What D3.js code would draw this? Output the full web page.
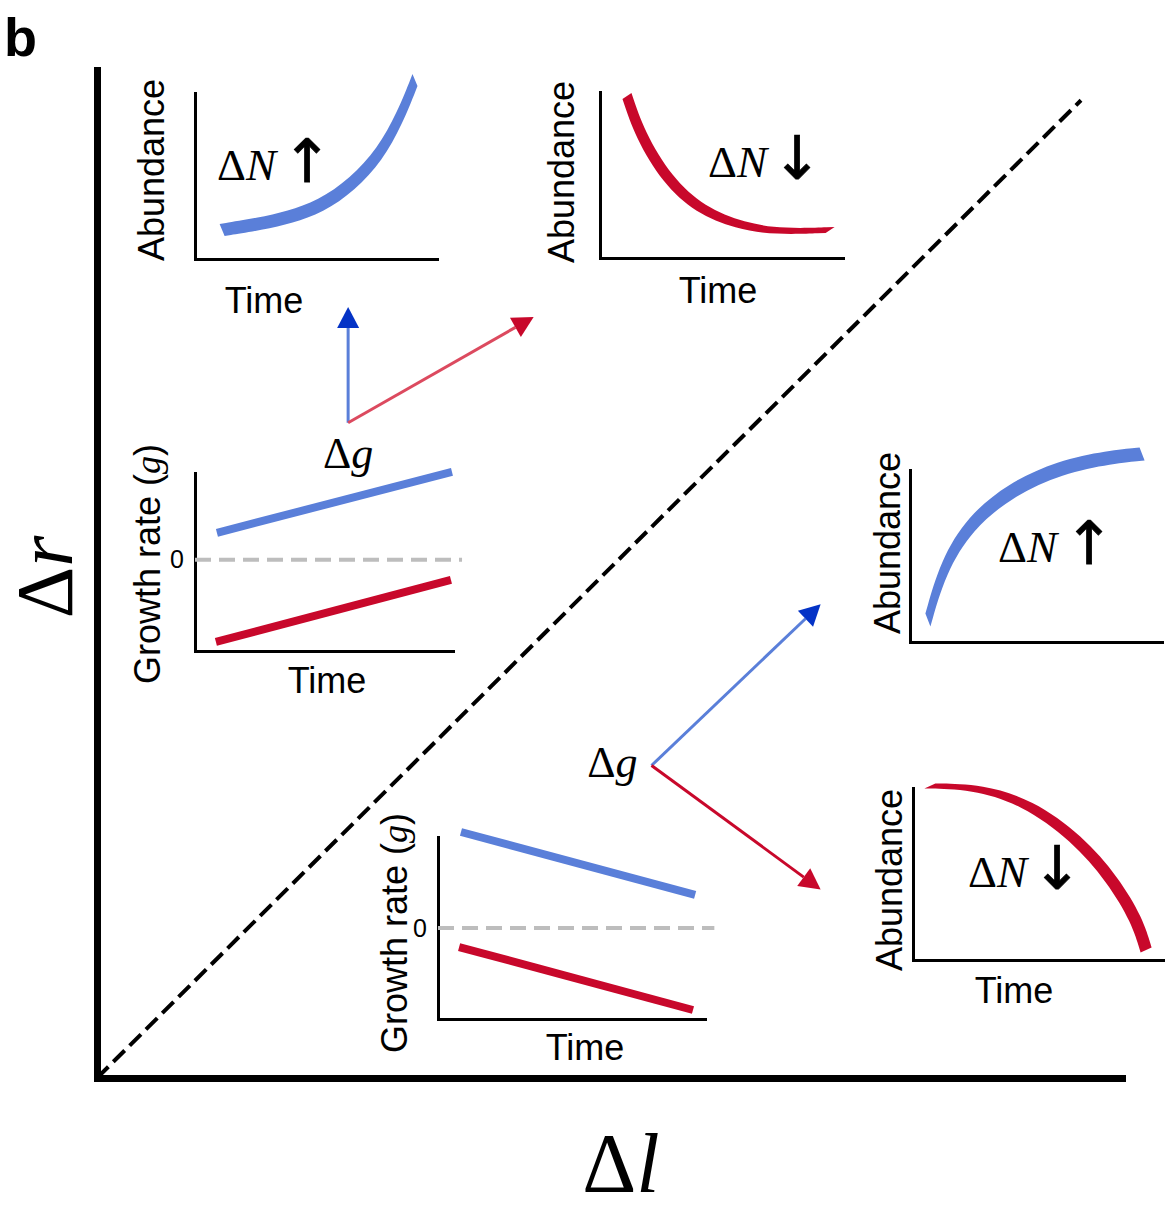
<!DOCTYPE html>
<html>
<head>
<meta charset="utf-8">
<title>Δr vs Δl</title>
<script src="https://cdn.jsdelivr.net/npm/d3@7"></script>
<style>
body { margin: 0; background: #fff; }
text { font-family: "Liberation Sans", Arial, sans-serif; fill: #000; }
.math { font-family: "Liberation Serif", "Times New Roman", serif; }
</style>
</head>
<body>
<svg id="fig" width="1165" height="1210"></svg>
<script>
// ---- data ----
// main diagram, in (Δl, Δr) units 0..10
var diagonal = [[0, 0], [9.6, 9.7]];
var arrowOriginTop = [2.45, 6.50];
var arrowTipsTop = [[2.45, 7.65], [4.26, 7.55]];      // blue, red
var arrowOriginBottom = [5.41, 3.10];
var arrowTipsBottom = [[7.06, 4.70], [7.06, 1.87]];   // blue, red

// abundance vs time insets (time 0..10, abundance 0..10)
var expGrowth    = [[1.12,1.75],[2.69,2.11],[3.93,2.53],[5.17,3.13],[6.53,4.52],[7.64,6.27],[8.47,8.49],[9.09,10.78]];
var expDecline   = [[1.11,9.76],[1.65,7.41],[2.76,4.70],[4.12,2.89],[5.76,1.93],[7.41,1.57],[9.47,1.69]];
var satGrowth    = [[0.71,1.28],[1.31,4.36],[2.38,6.92],[3.97,8.84],[5.95,10.17],[7.94,10.76],[9.21,10.93]];
var accelDecline = [[0.67,10.12],[2.54,10.06],[4.52,9.19],[6.51,7.09],[7.94,4.65],[8.89,2.33],[9.25,0.58]];

// growth rate vs time insets
var gUpBlue   = [[0.85, 3.11], [9.96, 10.14]];
var gUpRed    = [[0.81, -9.45], [9.92, -2.30]];
var gDownBlue = [[0.86, 10.55], [9.63, 3.63]];
var gDownRed  = [[0.79, -2.09], [9.55, -9.01]];

var BLUE = "#5a7fd9", RED = "#c8082b", BLUE_HEAD = "#0433c6", RED_LIGHT = "#dc4a5f";

var svg = d3.select("#fig");

// ---- main axes ----
var X = d3.scaleLinear().domain([0, 10]).range([97, 1122]);
var Y = d3.scaleLinear().domain([0, 10]).range([1078, 70]);

function bareAxis(g, w) {
  g.selectAll(".domain").attr("stroke", "#000").attr("stroke-width", w).attr("stroke-linecap", "square");
}

svg.append("g").attr("transform", "translate(0," + Y(0) + ")")
  .call(d3.axisBottom(X).tickValues([]).tickSizeOuter(0)).call(bareAxis, 7);
svg.append("g").attr("transform", "translate(" + X(0) + ",0)")
  .call(d3.axisLeft(Y).tickValues([]).tickSizeOuter(0)).call(bareAxis, 7);

svg.append("path")
  .attr("d", d3.line().x(function(d){ return X(d[0]); }).y(function(d){ return Y(d[1]); })(diagonal))
  .attr("stroke", "#000").attr("stroke-width", 4).attr("stroke-dasharray", "16,7").attr("fill", "none");

svg.append("text").attr("x", 4).attr("y", 56).style("font-weight", "bold").style("font-size", "54px").text("b");

svg.append("text").attr("class", "math").attr("transform", "translate(72,577) rotate(-90)")
  .attr("text-anchor", "middle").style("font-size", "80px")
  .html('Δ<tspan font-style="italic">r</tspan>');
svg.append("text").attr("class", "math").attr("x", 621).attr("y", 1192)
  .attr("text-anchor", "middle").style("font-size", "84px")
  .html('Δ<tspan font-style="italic">l</tspan>');

// ---- arrows ----
function arrow(from, to, lineColor, headColor) {
  var x1 = X(from[0]), y1 = Y(from[1]), x2 = X(to[0]), y2 = Y(to[1]);
  var a = Math.atan2(y2 - y1, x2 - x1), L = 21, W = 11;
  var bx = x2 - L * Math.cos(a), by = y2 - L * Math.sin(a);
  svg.append("line").attr("x1", x1).attr("y1", y1).attr("x2", bx).attr("y2", by)
    .attr("stroke", lineColor).attr("stroke-width", 3);
  var px = -Math.sin(a) * W, py = Math.cos(a) * W;
  svg.append("path")
    .attr("d", "M" + x2 + "," + y2 + "L" + (bx + px) + "," + (by + py) + "L" + (bx - px) + "," + (by - py) + "Z")
    .attr("fill", headColor);
}
arrow(arrowOriginTop, arrowTipsTop[0], BLUE, BLUE_HEAD);
arrow(arrowOriginTop, arrowTipsTop[1], RED_LIGHT, RED);
arrow(arrowOriginBottom, arrowTipsBottom[0], BLUE, BLUE_HEAD);
arrow(arrowOriginBottom, arrowTipsBottom[1], RED, RED);

svg.append("text").attr("class", "math").attr("x", X(arrowOriginTop[0])).attr("y", 468)
  .attr("text-anchor", "middle").style("font-size", "44px")
  .html('Δ<tspan font-style="italic">g</tspan>');
svg.append("text").attr("class", "math").attr("x", X(arrowOriginBottom[0]) - 14).attr("y", 777)
  .attr("text-anchor", "end").style("font-size", "44px")
  .html('Δ<tspan font-style="italic">g</tspan>');

// ---- insets ----
function inset(box, yDomain) {
  var g = svg.append("g");
  var x = d3.scaleLinear().domain([0, 10]).range([box.left, box.right]);
  var y = d3.scaleLinear().domain(yDomain).range([box.bottom, box.top]);
  g.append("g").attr("transform", "translate(0," + box.bottom + ")")
    .call(d3.axisBottom(x).tickValues([]).tickSizeOuter(0)).call(bareAxis, 3);
  g.append("g").attr("transform", "translate(" + box.left + ",0)")
    .call(d3.axisLeft(y).tickValues([]).tickSizeOuter(0)).call(bareAxis, 3);
  return { g: g, x: x, y: y };
}

function band(p, data, color, dx, dy) {
  p.g.append("path")
    .attr("d", d3.area().curve(d3.curveBasis)
      .x0(function(d){ return p.x(d[0]) - dx / 2; }).y0(function(d){ return p.y(d[1]) - dy / 2; })
      .x1(function(d){ return p.x(d[0]) + dx / 2; }).y1(function(d){ return p.y(d[1]) + dy / 2; })(data))
    .attr("fill", color);
}

function ylabel(p, text, bx, cy) {
  p.g.append("text").attr("transform", "translate(" + bx + "," + cy + ") rotate(-90)")
    .attr("text-anchor", "middle").style("font-size", "36px").html(text);
}
function xlabel(p, cx, by) {
  p.g.append("text").attr("x", cx).attr("y", by).attr("text-anchor", "middle").style("font-size", "36px").text("Time");
}
function deltaN(p, x0, base, up, ax) {
  p.g.append("text").attr("class", "math").attr("x", x0).attr("y", base).style("font-size", "45px")
    .html('Δ<tspan font-style="italic">N</tspan>');
  p.g.append("text").attr("x", ax).attr("y", base + 2).attr("text-anchor", "middle")
    .style("font-family", "DejaVu Sans").style("font-size", "60px")
    .attr("stroke", "#000").attr("stroke-width", 0.8)
    .text(up ? "↑" : "↓");
}

var p1 = inset({ left: 195, right: 437, bottom: 259, top: 93 }, [0, 10]);
band(p1, expGrowth, BLUE, 5, 12);
ylabel(p1, "Abundance", 164, 170);
xlabel(p1, 264, 313);
deltaN(p1, 217, 180, true, 307);

var p2 = inset({ left: 600, right: 843, bottom: 258, top: 92 }, [0, 10]);
band(p2, expDecline, RED, 9, -6);
ylabel(p2, "Abundance", 574, 172);
xlabel(p2, 718, 303);
deltaN(p2, 708, 177, false, 797);

var p3 = inset({ left: 910, right: 1162, bottom: 642, top: 470 }, [0, 10]);
band(p3, satGrowth, BLUE, 5, 13);
ylabel(p3, "Abundance", 900, 543);
deltaN(p3, 998, 562, true, 1089);

var p4 = inset({ left: 913, right: 1165, bottom: 960, top: 788 }, [0, 10]);
band(p4, accelDecline, RED, 11, -5);
ylabel(p4, "Abundance", 902, 880);
xlabel(p4, 1014, 1003);
deltaN(p4, 968, 887, false, 1057);

function growthInset(box, yDomain, blue, red, labelX, labelY, timeX, timeY) {
  var p = inset(box, yDomain);
  var line = d3.line().x(function(d){ return p.x(d[0]); }).y(function(d){ return p.y(d[1]); });
  p.g.append("path").attr("d", line([[0, 0], [10.35, 0]])).attr("stroke", "#bdbdbd")
    .attr("stroke-width", 4).attr("stroke-dasharray", "16,8").attr("fill", "none");
  var zero = p.g.append("g").attr("transform", "translate(" + box.left + ",0)")
    .call(d3.axisLeft(p.y).tickValues([0]).tickSize(0).tickPadding(11).tickFormat(d3.format("d")));
  zero.select(".domain").remove();
  zero.attr("font-size", null).attr("font-family", null);
  zero.selectAll("text").style("font-size", "25px");
  p.g.append("path").attr("d", line(blue)).attr("stroke", BLUE).attr("stroke-width", 8).attr("fill", "none");
  p.g.append("path").attr("d", line(red)).attr("stroke", RED).attr("stroke-width", 8).attr("fill", "none");
  ylabel(p, 'Growth rate (<tspan class="math" font-style="italic">g</tspan>)', labelX, labelY);
  xlabel(p, timeX, timeY);
}

growthInset({ left: 195, right: 453, bottom: 651, top: 473 }, [-10.5, 10], gUpBlue, gUpRed, 160, 564, 327, 693);
growthInset({ left: 438, right: 705, bottom: 1019, top: 837 }, [-10, 10], gDownBlue, gDownRed, 407, 933, 585, 1060);
</script>
</body>
</html>
